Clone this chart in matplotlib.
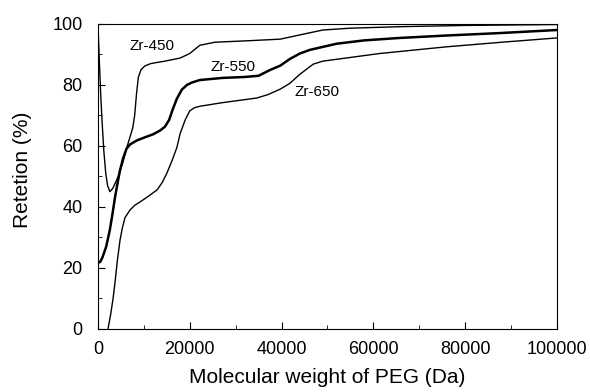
import matplotlib.pyplot as plt
from matplotlib.ticker import MultipleLocator

plt.rcParams['font.family'] = ['Liberation Sans', 'DejaVu Sans']

# Zr-450
mw_450 = [0, 300, 600, 900, 1300, 1700, 2100, 2600, 3200, 4000, 4800, 5500, 6200, 7000,
          7600, 8000, 8400, 8800, 9400, 10200, 11500, 14600, 17900, 20000, 22200, 25500,
          33000, 39700, 44000, 49000, 55000, 66000, 80000, 100000]
ret_450 = [100, 88, 77, 68, 58, 51, 47, 45, 46, 48.5, 51.5, 55, 59, 63,
           66, 70, 77, 82.5, 85, 86.2, 87, 87.8, 88.8, 90.3, 93, 94,
           94.5, 95, 96.4, 98, 98.6, 99.1, 99.5, 99.8]

# Zr-550
mw_550 = [0, 500, 1000, 1800, 2600, 3200, 3700, 4300, 4800, 5500, 6200, 7000, 8500,
          10200, 12000, 13500, 14600, 15500, 16300, 17200, 18300, 19400, 20500, 22200,
          27200, 32000, 35000, 37500, 39700, 41800, 44000, 46200, 52000, 58000, 65800,
          76000, 87600, 100000]
ret_550 = [21.6, 22, 23.5, 27, 32.5, 38, 43, 48, 52, 56, 59, 60.5, 61.8,
           62.8, 63.8, 65, 66.3, 68.5, 72, 75.5, 78.5, 80, 80.8, 81.6,
           82.3, 82.6, 83, 84.9, 86.3, 88.5, 90.3, 91.5, 93.5, 94.6, 95.4,
           96.2, 97, 98]

# Zr-650
mw_650 = [2200, 2800, 3300, 3700, 4200, 4800, 5300, 5900, 7000, 8000, 9150, 11000,
          12900, 14000, 15000, 16100, 17200, 17900, 19000, 20000, 21000, 22200, 27200,
          34600, 37000, 39700, 41800, 44000, 46900, 49000, 52000, 61400, 76000, 88000,
          100000]
ret_650 = [0, 5, 10, 15, 22, 29, 33, 36.5, 39, 40.5, 41.6, 43.5,
           45.6, 48, 51, 55, 59.5, 64, 68.5, 71.5, 72.5, 73, 74.2,
           75.7, 76.8, 78.6, 80.5, 83.5, 86.8, 87.8, 88.4, 90.3, 92.5, 94,
           95.4]

fig = plt.figure(figsize=(5.9, 3.92), dpi=100)
ax = fig.add_axes([0.166, 0.161, 0.778, 0.778])

ax.plot(mw_450, ret_450, color='black', lw=1.0)
ax.plot(mw_550, ret_550, color='black', lw=1.8)
ax.plot(mw_650, ret_650, color='black', lw=1.0)

ax.text(11800, 92.8, 'Zr-450', fontsize=11, ha='center', va='center')
ax.text(29400, 85.9, 'Zr-550', fontsize=11, ha='center', va='center')
ax.text(47700, 77.7, 'Zr-650', fontsize=11, ha='center', va='center')

ax.set_xlim(0, 100000)
ax.set_ylim(0, 100)
ax.xaxis.set_major_locator(MultipleLocator(20000))
ax.xaxis.set_minor_locator(MultipleLocator(10000))
ax.yaxis.set_major_locator(MultipleLocator(20))
ax.yaxis.set_minor_locator(MultipleLocator(10))
ax.tick_params(which='both', direction='in', top=False, right=False, labelsize=13)
ax.tick_params(which='major', length=5)
ax.tick_params(which='minor', length=3)
ax.tick_params(axis='x', which='major', pad=9)
ax.tick_params(axis='y', which='major', pad=11)

ax.set_xlabel('Molecular weight of PEG (Da)', fontsize=15)
ax.set_ylabel('Retetion (%)', fontsize=15)
ax.xaxis.set_label_coords(0.5, -0.128)
ax.yaxis.set_label_coords(-0.144, 0.52)

fig.savefig('out.png', dpi=100)
